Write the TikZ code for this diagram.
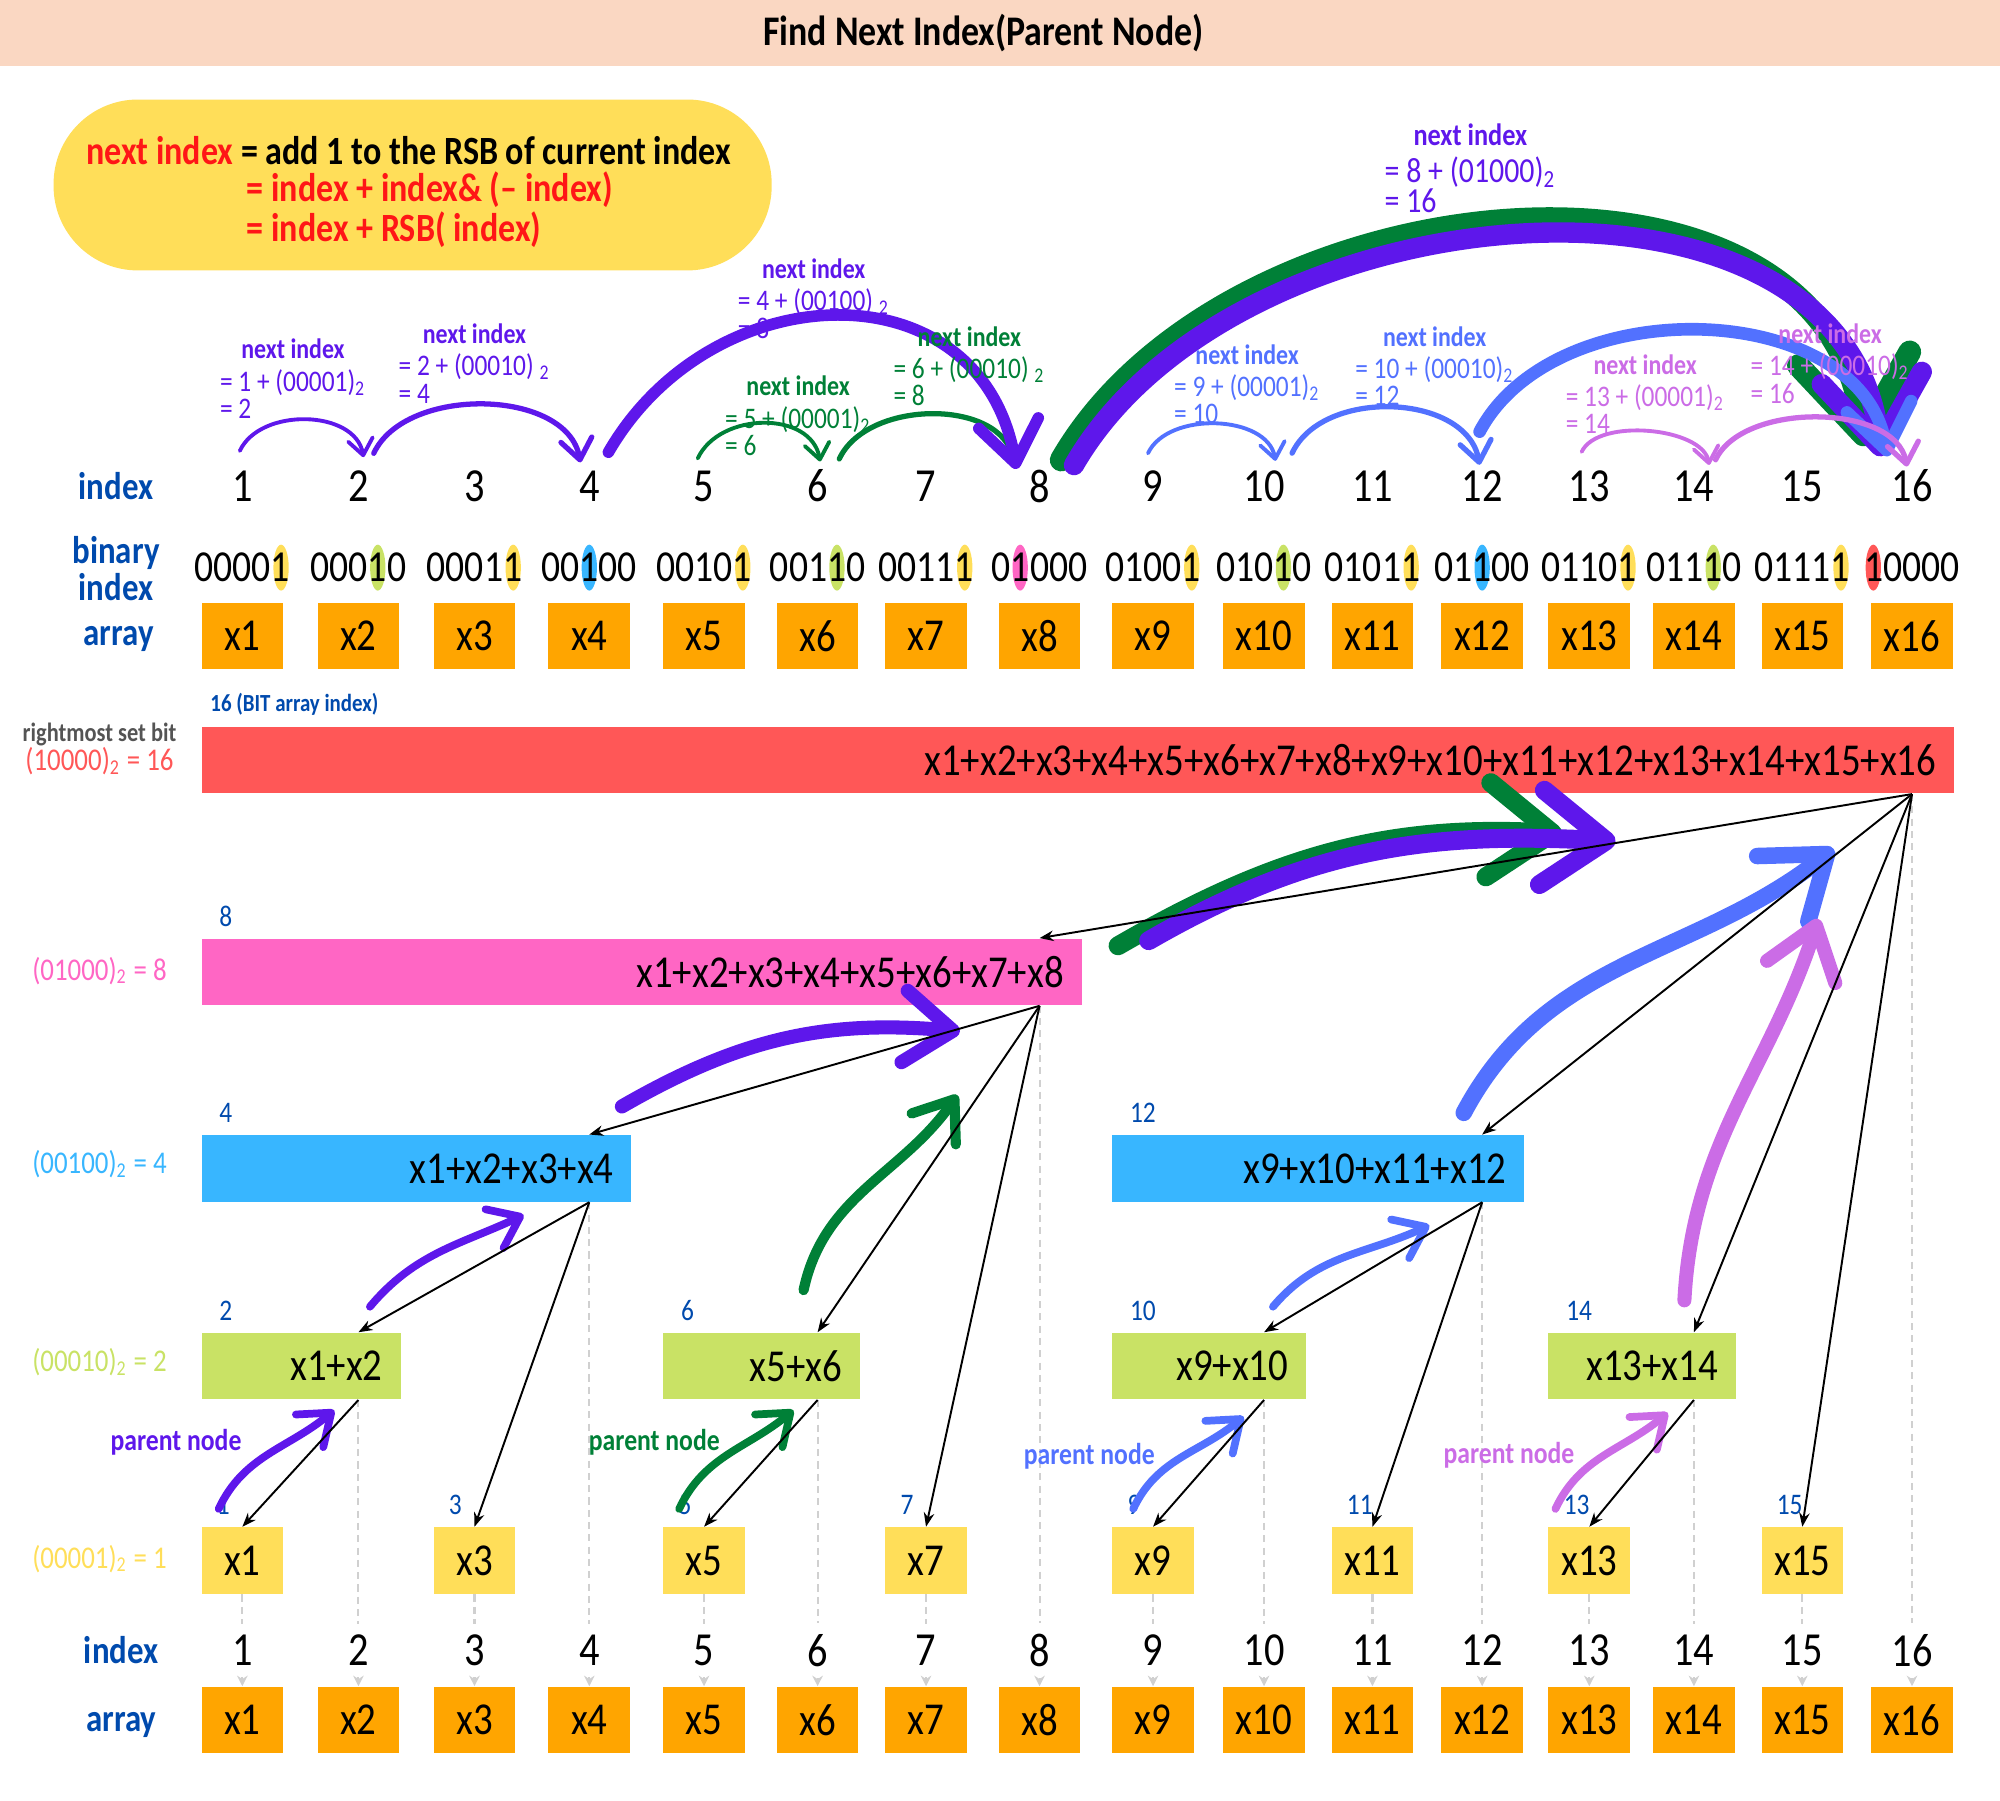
\documentclass[tikz,border=0pt]{standalone}
\usepackage{fontspec}
\setmainfont{Carlito}[FakeStretch=0.85]
\usetikzlibrary{arrows.meta,calc,backgrounds}

\definecolor{titlebg}{HTML}{FAD7C2}
\definecolor{formbg}{HTML}{FFDE59}
\definecolor{formred}{HTML}{FF1616}
\definecolor{cellbg}{HTML}{FFA500}
\definecolor{lvlred}{HTML}{FF5757}
\definecolor{lvlpink}{HTML}{FF66C4}
\definecolor{lvlblue}{HTML}{38B6FF}
\definecolor{lvlgreen}{HTML}{C9E265}
\definecolor{lvlyellow}{HTML}{FFDE59}
\definecolor{labelblue}{HTML}{004AAD}
\definecolor{setbitgray}{HTML}{545454}
\definecolor{hpurple}{HTML}{5E17EB}
\definecolor{hgreen}{HTML}{008037}
\definecolor{hblue}{HTML}{5271FF}
\definecolor{hlilac}{HTML}{CB6CE6}
\definecolor{guide}{HTML}{D0D0D0}

\newcommand{\pix}{0.012755cm}

\tikzset{
  cell/.style={fill=cellbg, minimum width=64*\pix, minimum height=52*\pix, inner sep=0, font=\fontsize{13}{13}\selectfont},
  idx/.style={inner sep=0, font=\fontsize{13.5}{13.5}\selectfont},
  bits/.style={inner sep=0, font=\fontsize{12.6}{12.6}\selectfont},
  rowlabel/.style={text=labelblue, align=center, font=\bfseries\fontsize{11}{8.8}\selectfont},
  lvllabel/.style={font=\fontsize{9}{9}\selectfont},
  barnum/.style={text=labelblue, anchor=west, inner sep=0, font=\fontsize{8.5}{8.5}\selectfont},
  sumbar/.style={inner ysep=0, inner xsep=14*\pix, minimum height=52*\pix, align=right, font=\fontsize{13}{13}\selectfont},
  hand/.style={line cap=round, -{Straight Barb[round, length=1pt 3.2, width=2pt 4.6]}},
  link/.style={line width=0.55pt, -{Stealth[length=4pt, width=3pt]}},
  guideline/.style={draw=guide, line width=0.6pt, dash pattern=on 2pt off 1.5pt},
  nexteq/.style={inner sep=0, anchor=north west, align=left, font=\fontsize{8.5}{7.8}\selectfont},
  nexthead/.style={inner sep=0, anchor=south, yshift=2.5pt, font=\bfseries\fontsize{8}{8}\selectfont},
  parentlbl/.style={font=\bfseries\fontsize{8.6}{8.6}\selectfont},
  formtext/.style={inner sep=0, anchor=west, font=\bfseries\fontsize{11.4}{11.4}\selectfont}
}

\begin{document}
\begin{tikzpicture}[x=0.012755cm, y=-0.012755cm]
\useasboundingbox (0,0) rectangle (1568,1411.2);

% title band
\fill[titlebg] (0,0) rectangle (1568,52);
\node[font=\bfseries\fontsize{12}{12}\selectfont] (title) at (771,26) {Find Next Index(Parent Node)};

% formula
\node[fill=formbg, rounded corners=24pt, minimum width=563*\pix, minimum height=134*\pix] (formula) at (323.5,145) {};
\node[formtext] (f1) at (67,118) {\textcolor{formred}{next index} = add 1 to the RSB of current index};
\node[formtext, text=formred] (f2) at (193,149) {= index + index\& (– index)};
\node[formtext, text=formred] (f3) at (193,180) {= index + RSB( index)};

% row labels
\node[rowlabel] (lidx) at (91,381) {index};
\node[rowlabel] (lbin) at (91,446) {binary\\index};
\node[rowlabel] (larr) at (93,501) {array};
\node[rowlabel] (lidx2) at (95,1294) {index};
\node[rowlabel] (larr2) at (95,1352) {array};

% columns: index, binary index, array (top and bottom)
\foreach \i/\cx/\bits/\k/\col in {1/190/00001/4/lvlyellow, 2/281/00010/3/lvlgreen, 3/372/00011/4/lvlyellow,
    4/462/00100/2/lvlblue, 5/552/00101/4/lvlyellow, 6/641/00110/3/lvlgreen, 7/726/00111/4/lvlyellow,
    8/815/01000/1/lvlpink, 9/904/01001/4/lvlyellow, 10/991/01010/3/lvlgreen, 11/1076/01011/4/lvlyellow,
    12/1162/01100/2/lvlblue, 13/1246/01101/4/lvlyellow, 14/1328/01110/3/lvlgreen, 15/1413/01111/4/lvlyellow,
    16/1499/10000/0/lvlred} {
  \node[idx] (n\i) at (\cx,381) {\i};
  \node[bits] (bin\i) at (\cx,445) {\bits};
  \begin{pgfonlayer}{background}
    \fill[\col] ($(bin\i.west)!{(\k+0.5)/5}!(bin\i.east)$) ellipse [x radius=6, y radius=18];
  \end{pgfonlayer}
  \node[cell] (a\i) at (\cx,498.5) {x\i};
  \node[idx] (m\i) at (\cx,1294) {\i};
  \node[cell] (c\i) at (\cx,1348.5) {x\i};
}

% tree bars
\foreach \nm/\l/\r/\y/\col/\num/\txt in {
    s16/158/1532/596/lvlred/{}/{x1+x2+x3+x4+x5+x6+x7+x8+x9+x10+x11+x12+x13+x14+x15+x16},
    s8/158/848/762/lvlpink/8/{x1+x2+x3+x4+x5+x6+x7+x8},
    s4/158/495/916/lvlblue/4/{x1+x2+x3+x4},
    s12/872/1195/916/lvlblue/12/{x9+x10+x11+x12},
    s2/158/314/1071/lvlgreen/2/{x1+x2},
    s6/520/674/1071/lvlgreen/6/{x5+x6},
    s10/872/1024/1071/lvlgreen/10/{x9+x10},
    s14/1214/1361/1071/lvlgreen/14/{x13+x14}} {
  \pgfmathsetmacro\barw{(\r-\l-28)*0.012755}
  \node[sumbar, fill=\col, text width=\barw cm] (\nm) at ({(\l+\r)/2},\y) {\txt};
  \node[barnum] at ($(\nm.north west)+(14,-17)$) {\num};
}
\node[barnum, font=\bfseries\fontsize{7}{7}\selectfont] (bitlabel) at ($(s16.north west)+(7,-17)$) {16 (BIT array index)};

% single cells
\foreach \i in {1,3,...,15} {
  \node[cell, fill=lvlyellow] (s\i) at ($(a\i)+(0,725)$) {x\i};
  \node[barnum] at ($(s\i.north west)+(12,-17)$) {\i};
}

% level labels
\node[font=\bfseries\fontsize{7.5}{7.5}\selectfont, text=setbitgray] (rsb) at (78,576) {rightmost set bit};
\node[lvllabel, text=lvlred] (k16) at (78,597) {(10000)\textsubscript{2} = 16};
\node[lvllabel, text=lvlpink] (k8) at (78,761) {(01000)\textsubscript{2} = 8};
\node[lvllabel, text=lvlblue] (k4) at (78,913) {(00100)\textsubscript{2} = 4};
\node[lvllabel, text=lvlgreen] (k2) at (78,1068) {(00010)\textsubscript{2} = 2};
\node[lvllabel, text=lvlyellow] (k1) at (78,1222) {(00001)\textsubscript{2} = 1};

% dotted guides down to the array
\foreach \i in {1,...,16} {
  \draw[guideline, shorten >=3pt] (s\i.south -| m\i) -- (m\i.north);
  \draw[guideline, shorten <=3pt, -{Stealth[length=3pt, width=3pt]}] (m\i.south) -- (c\i.north);
}

% next index arcs
\draw[hand, hpurple, line width=1.1pt] ($(n1.north)+(-2,-15)$) to[out=65, in=100] ($(n2.north)+(4,-10)$);
\draw[hand, hpurple, line width=1.5pt] ($(n2.north)+(12,-13)$) to[out=65, in=100, looseness=0.93] ($(n4.north)+(-7,-6)$);
\draw[hand, hgreen, line width=1.1pt] ($(n5.north)+(-5,-9)$) to[out=65, in=100, looseness=1.08] ($(n6.north)+(2,-6)$);
\draw[hand, hgreen, line width=1.5pt] ($(n6.north)+(17,-8)$) to[out=65, in=100, looseness=0.97] ($(n8.north)+(-20,-4)$);
\draw[hand, hpurple, line width=3.3pt] ($(n4.north)+(15,-14)$) to[out=60, in=100, looseness=1.3] ($(n8.north)+(-18,0)$);
\draw[hand, hgreen, line width=6.5pt] ($(n8.north)+(17,-7)$) to[out=60, in=97, looseness=1.05] ($(n16.north)+(-37,-18)$);
\draw[hand, hpurple, line width=5.8pt] ($(n8.north)+(27,-3)$) to[out=60, in=97, looseness=1.02] ($(n16.north)+(-24,-10)$);
\draw[hand, hblue, line width=1.1pt] ($(n9.north)+(-4,-13)$) to[out=65, in=100, looseness=0.94] ($(n10.north)+(9,-7)$);
\draw[hand, hblue, line width=1.5pt] ($(n10.north)+(22,-13)$) to[out=65, in=100, looseness=0.99] ($(n12.north)+(-2,-4)$);
\draw[hand, hblue, line width=3.6pt] ($(n12.north)+(-2,-30)$) to[out=62, in=100, looseness=1.01] ($(n16.north)+(-19,-10)$);
\draw[hand, hlilac, line width=1.1pt] ($(n13.north)+(-6,-14)$) to[out=65, in=100, looseness=0.76] ($(n14.north)+(12,-4)$);
\draw[hand, hlilac, line width=1.5pt] ($(n14.north)+(17,-8)$) to[out=65, in=100, looseness=0.86] ($(n16.north)+(-4,-2)$);

% next index labels
\node[nexteq, text=hpurple] (q1) at (172,289) {= 1 + (00001)\textsubscript{2}\\= 2};
\node[nexthead, text=hpurple] at (q1.north) {next index};
\node[nexteq, text=hpurple] (q2) at (312,277) {= 2 + (00010) \textsubscript{2}\\= 4};
\node[nexthead, text=hpurple] at (q2.north) {next index};
\node[nexteq, text=hpurple] (q4) at (578,226) {= 4 + (00100) \textsubscript{2}\\= 8};
\node[nexthead, text=hpurple] at (q4.north) {next index};
\node[nexteq, text=hgreen] (q5) at (568,318) {= 5 + (00001)\textsubscript{2}\\= 6};
\node[nexthead, text=hgreen] at (q5.north) {next index};
\node[nexteq, text=hgreen] (q6) at (700,279) {= 6 + (00010) \textsubscript{2}\\= 8};
\node[nexthead, text=hgreen] at (q6.north) {next index};
\node[nexteq, text=hpurple, font=\fontsize{10}{8.6}\selectfont] (q8) at (1085,122) {= 8 + (01000)\textsubscript{2}\\= 16};
\node[nexthead, text=hpurple, font=\bfseries\fontsize{8.8}{8.8}\selectfont] at (q8.north) {next index};
\node[nexteq, text=hblue] (q9) at (920,293) {= 9 + (00001)\textsubscript{2}\\= 10};
\node[nexthead, text=hblue] at (q9.north) {next index};
\node[nexteq, text=hblue] (q10) at (1062,279) {= 10 + (00010)\textsubscript{2}\\= 12};
\node[nexthead, text=hblue] at (q10.north) {next index};
\node[nexteq, text=hlilac] (q13) at (1227,301) {= 13 + (00001)\textsubscript{2}\\= 14};
\node[nexthead, text=hlilac] at (q13.north) {next index};
\node[nexteq, text=hlilac] (q14) at (1372,277) {= 14 + (00010)\textsubscript{2}\\= 16};
\node[nexthead, text=hlilac] at (q14.north) {next index};

% parent node arrows in the tree
\draw[hand, hpurple, line width=2.2pt] ($(s1.north west)+(14,-14)$) to[out=65, in=220] ($(s2.south)+(26,8)$);
\draw[hand, hgreen, line width=2.2pt] ($(s5.north west)+(13,-14)$) to[out=65, in=220] ($(s6.south)+(25,8)$);
\draw[hand, hblue, line width=2.2pt] ($(s9.north west)+(17,-14)$) to[out=65, in=220] ($(s10.south)+(27,13)$);
\draw[hand, hlilac, line width=2.2pt] ($(s13.north west)+(6,-14)$) to[out=65, in=220] ($(s14.south)+(20,10)$);
\draw[hand, hpurple, line width=2.2pt] ($(s2.north)+(54,-20)$) to[out=50, in=205] ($(s4.south east)+(-85,10)$);
\draw[hand, hblue, line width=2.2pt] ($(s10.north)+(50,-20)$) to[out=50, in=205] ($(s12.south east)+(-75,18)$);
\draw[hand, hgreen, line width=2.9pt] ($(s6.north)+(33,-33)$) to[out=78, in=235] ($(s8.south east)+(-98,70)$);
\draw[hand, hpurple, line width=4pt] ($(s4.north east)+(-8,-22)$) to[out=30, in=175] ($(s8.south east)+(-96,20)$);
\draw[hand, hblue, line width=4.7pt] ($(s12.north east)+(-48,-17)$) to[out=62, in=218] ($(s16.south east)+(-95,43)$);
\draw[hand, hlilac, line width=4pt] ($(s14.north east)+(-41,-25)$) to[out=87, in=252] ($(s16.south east)+(-107,98)$);
\draw[hand, hgreen, line width=5.4pt] ($(s8.north east)+(28,6)$) to[out=30, in=177] ($(s16.south east)+(-308,31)$);
\draw[hand, hpurple, line width=5.4pt] ($(s8.north east)+(52,2)$) to[out=30, in=177] ($(s16.south east)+(-266,37)$);

\node[parentlbl, text=hpurple] (p1) at (138,1131) {parent node};
\node[parentlbl, text=hgreen] (p5) at (513,1131) {parent node};
\node[parentlbl, text=hblue] (p9) at (854,1142) {parent node};
\node[parentlbl, text=hlilac] (p13) at (1183,1141) {parent node};

% tree links from each node to its children
\foreach \p/\c in {16/8, 16/12, 16/14, 16/15, 8/4, 8/6, 8/7, 4/2, 4/3, 12/10, 12/11, 2/1, 6/5, 10/9, 14/13}
  \draw[link] (s\p.south -| m\p) -- (s\c.north -| m\c);

\end{tikzpicture}
\end{document}
